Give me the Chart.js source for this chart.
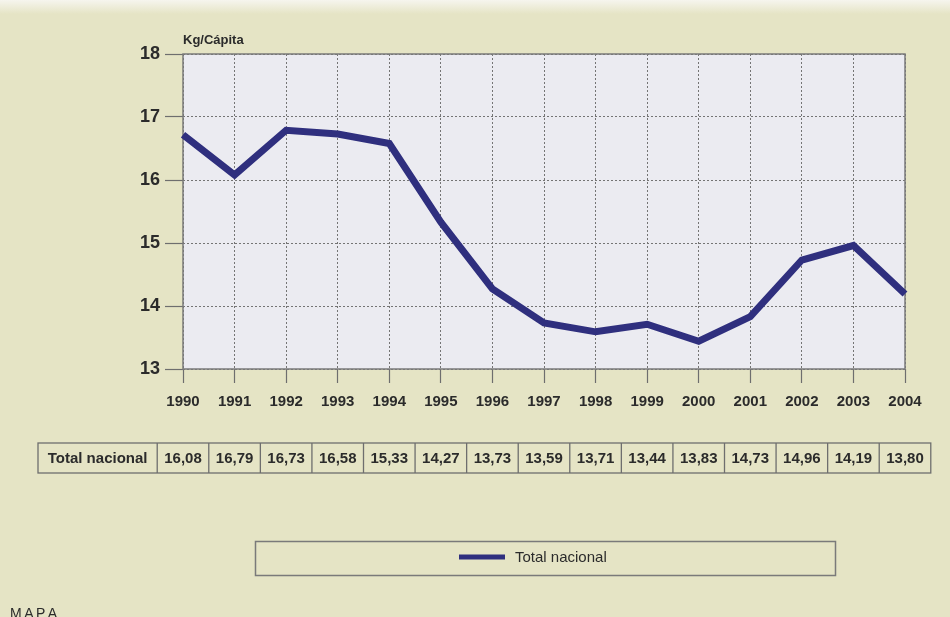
<!DOCTYPE html>
<html>
<head>
<meta charset="utf-8">
<script src="https://cdn.jsdelivr.net/npm/chart.js@4.4.0/dist/chart.umd.min.js"></script>
<style>
  html, body { margin: 0; padding: 0; background: #e5e4c5; }
  #wrap { width: 950px; height: 617px; position: relative; overflow: hidden; }
  canvas { display: block; }
</style>
</head>
<body>
<div id="wrap"><canvas id="c" width="950" height="617"></canvas></div>
<script>
// Consumo per cápita (Kg/Cápita), total nacional
const years = ['1990', '1991', '1992', '1993', '1994', '1995', '1996', '1997',
               '1998', '1999', '2000', '2001', '2002', '2003', '2004'];
const consumo = [16.72, 16.08, 16.79, 16.73, 16.58, 15.33, 14.27, 13.73,
                 13.59, 13.71, 13.44, 13.83, 14.73, 14.96, 14.19];
// Values printed in the data table row under the chart
const tablaValores = ['16,08', '16,79', '16,73', '16,58', '15,33', '14,27', '13,73', '13,59',
                      '13,71', '13,44', '13,83', '14,73', '14,96', '14,19', '13,80'];
const yMin = 13;
const yMax = 18;
const yStep = 1;
const serieNombre = 'Total nacional';
const unidad = 'Kg/Cápita';
const fuente = 'MAPA';

const LINE_COLOR = '#2f2f7e';
const PAGE_BG = '#e5e4c5';
const PLOT_BG = '#ebebf1';
const FRAME = '#7a7a7a';
const TEXT = '#2b2b2b';
const FONT = '"Liberation Sans", Arial, sans-serif';

const decor = {
  id: 'decor',
  beforeDraw(chart) {
    const { ctx, chartArea: a, width, height } = chart;
    ctx.save();
    ctx.fillStyle = PAGE_BG;
    ctx.fillRect(0, 0, width, height);
    const g = ctx.createLinearGradient(0, 0, 0, 14);
    g.addColorStop(0, '#f6f5ee');
    g.addColorStop(1, 'rgba(246,245,238,0)');
    ctx.fillStyle = g;
    ctx.fillRect(0, 0, width, 14);
    ctx.fillStyle = PLOT_BG;
    ctx.fillRect(a.left, a.top, a.right - a.left, a.bottom - a.top);
    ctx.restore();
  },
  beforeDatasetsDraw(chart) {
    const { ctx, chartArea: a } = chart;
    ctx.save();
    ctx.strokeStyle = FRAME;
    ctx.lineWidth = 1.5;
    ctx.strokeRect(a.left, a.top, a.right - a.left, a.bottom - a.top);
    ctx.restore();
  },
  afterDraw(chart) {
    const { ctx, chartArea: a } = chart;
    const xs = chart.scales.x;
    ctx.save();

    // unit label above the value axis
    ctx.fillStyle = TEXT;
    ctx.font = 'bold 13px ' + FONT;
    ctx.textAlign = 'left';
    ctx.textBaseline = 'middle';
    ctx.fillText(unidad, a.left, 40);

    // data table row
    const top = 443, bottom = 473, left = 38;
    const half = (xs.getPixelForValue(1) - xs.getPixelForValue(0)) / 2;
    const first = xs.getPixelForValue(0) - half;
    const right = xs.getPixelForValue(tablaValores.length - 1) + half;
    ctx.strokeStyle = '#6e6e6e';
    ctx.lineWidth = 1.3;
    ctx.strokeRect(left, top, right - left, bottom - top);
    ctx.beginPath();
    ctx.moveTo(first, top); ctx.lineTo(first, bottom);
    for (let i = 0; i < tablaValores.length - 1; i++) {
      const xb = xs.getPixelForValue(i) + half;
      ctx.moveTo(xb, top); ctx.lineTo(xb, bottom);
    }
    ctx.stroke();
    const cy = (top + bottom) / 2 + 1;
    ctx.font = 'bold 15px ' + FONT;
    ctx.textAlign = 'center';
    ctx.fillText(serieNombre, (left + first) / 2, cy);
    tablaValores.forEach((v, i) => ctx.fillText(v, xs.getPixelForValue(i), cy));

    // legend box
    ctx.strokeStyle = FRAME;
    ctx.lineWidth = 1.5;
    ctx.strokeRect(255.5, 541.5, 580, 34);
    const ds = chart.data.datasets[0];
    ctx.strokeStyle = ds.borderColor;
    ctx.lineWidth = 5;
    ctx.beginPath();
    ctx.moveTo(459, 557); ctx.lineTo(505, 557);
    ctx.stroke();
    ctx.fillStyle = TEXT;
    ctx.font = '15px ' + FONT;
    ctx.textAlign = 'left';
    ctx.fillText(ds.label, 515, 558);

    // source
    ctx.font = '14px ' + FONT;
    ctx.textBaseline = 'alphabetic';
    let x = 10;
    for (const ch of fuente) {
      ctx.fillText(ch, x, 618);
      x += ctx.measureText(ch).width + 2.5;
    }
    ctx.restore();
  }
};

new Chart(document.getElementById('c'), {
  type: 'line',
  data: {
    labels: years,
    datasets: [{
      label: serieNombre,
      data: consumo,
      borderColor: LINE_COLOR,
      backgroundColor: LINE_COLOR,
      borderWidth: 7,
      pointRadius: 0,
      tension: 0,
      fill: false
    }]
  },
  options: {
    responsive: false,
    animation: false,
    devicePixelRatio: 1,
    layout: { padding: { top: 54, right: 45, left: 0, bottom: 0 } },
    plugins: { legend: { display: false }, tooltip: { enabled: false } },
    scales: {
      x: {
        offset: false,
        grid: { color: '#747474', lineWidth: 1, tickLength: 14, tickColor: '#6e6e6e', tickWidth: 1.2 },
        border: { display: false, dash: [2, 2] },
        ticks: { color: TEXT, font: { family: FONT, size: 15, weight: 'bold' }, padding: 10, maxRotation: 0, autoSkip: false },
        afterFit(s) { s.height = 617 - 369; }
      },
      y: {
        min: yMin,
        max: yMax,
        grid: { color: '#747474', lineWidth: 1, tickLength: 18, tickColor: '#6e6e6e', tickWidth: 1.2 },
        border: { display: false, dash: [2, 2] },
        ticks: { stepSize: yStep, color: TEXT, font: { family: FONT, size: 18, weight: 'bold' }, padding: 5 },
        afterFit(s) { s.width = 183; }
      }
    }
  },
  plugins: [decor]
});
</script>
</body>
</html>
